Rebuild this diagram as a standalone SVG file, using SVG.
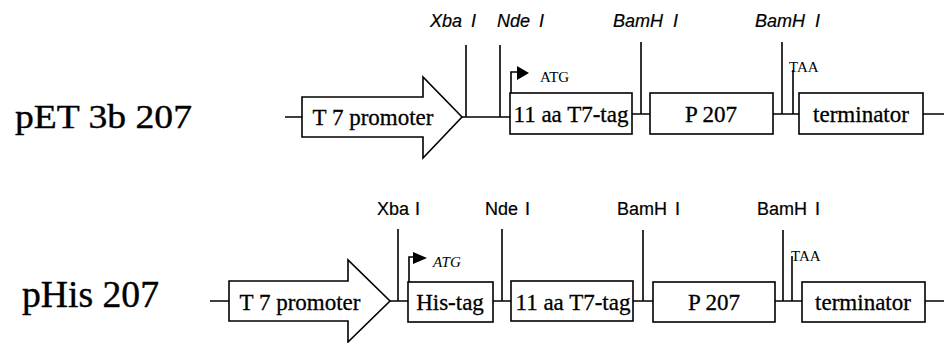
<svg xmlns="http://www.w3.org/2000/svg" width="944" height="343" viewBox="0 0 944 343">
<style>
.ln{stroke:#000;stroke-width:1.6;fill:none}
.bx{stroke:#000;stroke-width:1.6;fill:#fff}
.bt{font-family:"Liberation Serif",serif;font-size:23px;fill:#000;text-anchor:middle;stroke:#000;stroke-width:0.3}
.rl{font-family:"Liberation Serif",serif;fill:#000;stroke:#000;stroke-width:0.4}
.re{font-family:"Liberation Sans",sans-serif;font-size:18px;fill:#000;stroke:#000;stroke-width:0.2}
.sm{font-family:"Liberation Serif",serif;font-size:15px;fill:#000}
</style>
<rect width="944" height="343" fill="#fff"/>
<text class="rl" x="15" y="128" font-size="34" textLength="177" lengthAdjust="spacingAndGlyphs">pET 3b 207</text>
<text class="rl" x="22" y="307" font-size="37" textLength="137" lengthAdjust="spacingAndGlyphs">pHis 207</text>
<g id="connectors">
<path class="ln" d="M285 117H302M462 117H510M632 114H650M773 114H799M923 114H944"/>
<path class="ln" d="M466 45V117M500 45V117M641 42V114M782 42V114M793 70V114"/>
<path class="ln" d="M511 93V72H518"/>
<path d="M517 66L529 73L517 80Z" fill="#000"/>
<path class="ln" d="M210 301H229M390 301H408M493 301H511M633 301H653M775 301H802M925 301H944"/>
<path class="ln" d="M398 229V301M502 229V301M643 230V301M783 230V301M792 256V301"/>
<path class="ln" d="M409 282V257H414"/>
<path d="M413 252L427 258L413 264Z" fill="#000"/>
</g>
<g id="labels1">
<text class="re" x="430" y="27" font-style="italic" word-spacing="4">Xba I</text>
<text class="re" x="497" y="27" font-style="italic" word-spacing="4">Nde I</text>
<text class="re" x="613" y="27" font-style="italic" word-spacing="5">BamH I</text>
<text class="re" x="755" y="27" font-style="italic" word-spacing="5">BamH I</text>
<text class="sm" x="540" y="82" font-size="16">ATG</text>
<text class="sm" x="789" y="72">TAA</text>
</g>
<g id="labels2">
<text class="re" x="377" y="215" word-spacing="1">Xba I</text>
<text class="re" x="485" y="215" word-spacing="2">Nde I</text>
<text class="re" x="617" y="215" word-spacing="3">BamH I</text>
<text class="re" x="757" y="215" word-spacing="3">BamH I</text>
<text class="sm" x="433" y="267" font-size="16" font-style="italic">ATG</text>
<text class="sm" x="791" y="261">TAA</text>
</g>
<g id="r1-promoter">
<path class="bx" d="M302 97H423V77L462 117L423 158V137H302Z"/>
<text class="bt" x="373" y="125">T 7 promoter</text>
</g>
<g id="r1-t7tag">
<rect class="bx" x="510" y="93" width="122" height="41"/>
<text class="bt" x="571" y="122">11 aa T7-tag</text>
</g>
<g id="r1-p207">
<rect class="bx" x="650" y="93" width="123" height="41"/>
<text class="bt" x="711" y="122">P 207</text>
</g>
<g id="r1-terminator">
<rect class="bx" x="799" y="93" width="124" height="41"/>
<text class="bt" x="861" y="122">terminator</text>
</g>
<g id="r2-promoter">
<path class="bx" d="M229 281H348V260L390 301L348 342V321H229Z"/>
<text class="bt" x="300" y="310">T 7 promoter</text>
</g>
<g id="r2-histag">
<rect class="bx" x="408" y="282" width="85" height="40"/>
<text class="bt" x="450" y="310">His-tag</text>
</g>
<g id="r2-t7tag">
<rect class="bx" x="511" y="281" width="122" height="40"/>
<text class="bt" x="573" y="310">11 aa T7-tag</text>
</g>
<g id="r2-p207">
<rect class="bx" x="653" y="282" width="122" height="40"/>
<text class="bt" x="714" y="310">P 207</text>
</g>
<g id="r2-terminator">
<rect class="bx" x="802" y="282" width="123" height="40"/>
<text class="bt" x="863" y="310">terminator</text>
</g>
</svg>
